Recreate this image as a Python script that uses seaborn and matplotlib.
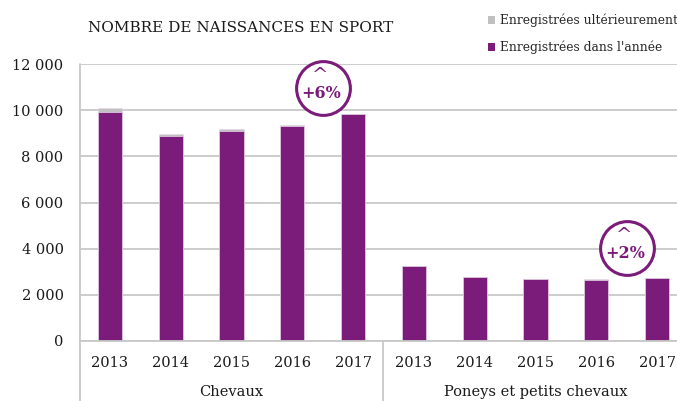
import numpy as np
import pandas as pd
import seaborn as sns
import matplotlib.pyplot as plt
from matplotlib.lines import Line2D
from matplotlib.patches import Patch
import matplotlib.transforms as mtrans

groups = ["Chevaux", "Poneys et petits chevaux"]
years = ["2013", "2014", "2015", "2016", "2017"]

chevaux_annee = [9930, 8865, 9080, 9300, 9840]
chevaux_ulter = [160, 110, 100, 55, 15]
poneys_annee = [3250, 2757, 2670, 2660, 2725]
poneys_ulter = [15, 15, 10, 10, 10]

annotations = ["+6%", "+2%"]

purple = "#7b1c7a"
grey = "#c0c0c0"
txt = "#1a1a1a"

rows = []
for g, annee, ulter in [(groups[0], chevaux_annee, chevaux_ulter), (groups[1], poneys_annee, poneys_ulter)]:
    for y, a, u in zip(years, annee, ulter):
        rows.append({"cat": g + " " + y, "groupe": g, "annee": y, "dans": a, "total": a + u})
df = pd.DataFrame(rows)

sns.set_style("white")
plt.rcParams["font.family"] = ["DejaVu Serif"]

fig = plt.figure(figsize=(6.77, 4.01), dpi=100)
ax = fig.add_axes([79.5 / 677, 60 / 401, 608 / 677, 277 / 401])

sns.barplot(data=df, x="cat", y="total", color=grey, width=0.4, errorbar=None,
            saturation=1, edgecolor="#e9d9e9", linewidth=0.5, ax=ax, zorder=3)
sns.barplot(data=df, x="cat", y="dans", color=purple, width=0.4, errorbar=None,
            saturation=1, edgecolor="#e9d9e9", linewidth=0.5, ax=ax, zorder=4)

ax.set_ylim(0, 12000)
ax.set_xlim(-0.5, 9.5)
ax.set_yticks(np.arange(0, 12001, 2000))
ax.set_yticklabels([f"{v:,}".replace(",", " ") for v in range(0, 12001, 2000)],
                   fontsize=10.5, color=txt)
ax.grid(axis="y", color="#c8c8c8", lw=1.3, zorder=0)
ax.set_axisbelow(True)
ax.tick_params(axis="y", length=3.5, width=1, color="#c8c8c8", pad=8)
ax.tick_params(axis="x", length=0, pad=11)
ax.set_xticks(range(10))
ax.set_xticklabels(df["annee"], fontsize=10.5, color=txt)
ax.set_xlabel("")
ax.set_ylabel("")
for s in ["top", "right", "bottom", "left"]:
    ax.spines[s].set_visible(False)

# axis lines that run down through the category labels
tr = mtrans.blended_transform_factory(ax.transData, fig.transFigure)
ax.add_line(Line2D([-0.5, -0.5], [0, 1 - 64 / 401], transform=tr,
                   color="#c8c8c8", lw=1.3, clip_on=False))
ax.add_line(Line2D([4.5, 4.5], [0, 60 / 401], transform=tr,
                   color="#c8c8c8", lw=1.3, clip_on=False))
ax.add_line(Line2D([-0.5, 9.5], [0, 0], color="#c8c8c8", lw=1.3, zorder=5, clip_on=False))

for i, g in enumerate(groups):
    ax.text(2 + 5 * i, 9 / 401, g, transform=tr, ha="center", va="center",
            fontsize=10.5, color=txt)

# circled growth labels
circ_x = [3.5, 8.5]
circ_y = [10950, 4030]
for cx, cy, lab in zip(circ_x, circ_y, annotations):
    ax.scatter([cx], [cy], s=1500, facecolor="white", edgecolor=purple,
               linewidth=2.2, zorder=6, clip_on=False)
    ax.text(cx - 0.02, cy - 230, lab, ha="center", va="center", fontsize=11.5,
            fontweight="bold", color=purple, zorder=7)
    ax.text(cx - 0.05, cy + 520, "^", ha="center", va="center", fontsize=14,
            color=purple, zorder=7)

fig.text(88 / 677, 1 - 28 / 401, "NOMBRE DE NAISSANCES EN SPORT", ha="left",
         va="center", fontsize=11, color=txt)

handles = [Patch(facecolor=grey, edgecolor="none"), Patch(facecolor=purple, edgecolor="none")]
fig.legend(handles, ["Enregistrées ultérieurement", "Enregistrées dans l'année"],
           loc="upper left", bbox_to_anchor=(483 / 677, 1 - 9 / 401), frameon=False,
           fontsize=8.8, handlelength=0.6, handleheight=0.6, handletextpad=0.35,
           labelspacing=1.1, borderaxespad=0)

fig.savefig("out.png", dpi=100)
